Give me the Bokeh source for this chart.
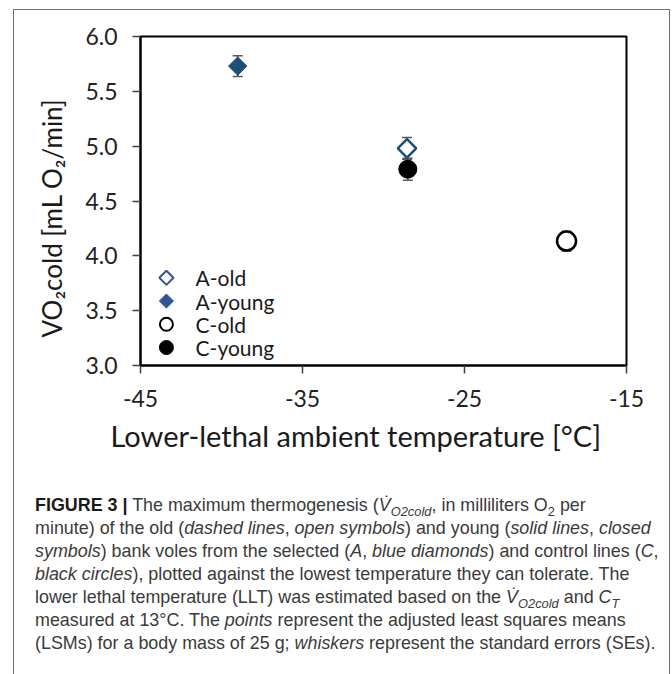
import numpy as np
from bokeh.plotting import figure
from bokeh.models import (ColumnDataSource, Range1d, FixedTicker, Whisker, TeeHead,
                          Title, Div)
from bokeh.layouts import column
from bokeh.core.properties import value
from bokeh.embed import file_html
from bokeh.resources import INLINE

# ---------------- data ----------------
groups = ["A-old", "A-young", "C-old", "C-young"]
llt = [-28.55, -39.0, -18.7, -28.5]        # lower-lethal ambient temperature [°C]
vo2cold = [4.98, 5.73, 4.135, 4.79]        # VO2cold [mL O2/min]
se = [0.10, 0.095, 0.09, 0.10]             # standard errors

x_ticks = [-45, -35, -25, -15]
x_tick_labels = ["-45", "-35", "-25", "-15"]
y_ticks = [3.0, 3.5, 4.0, 4.5, 5.0, 5.5, 6.0]
y_tick_labels = ["3.0", "3.5", "4.0", "4.5", "5.0", "5.5", "6.0"]

x_title = "Lower-lethal ambient temperature [°C]"
y_title = "VO\u2082cold [mL O\u2082/min]"

caption_lines = [
    '<b style="color:#1a1a1a">FIGURE 3 |</b> The maximum thermogenesis (<i>V&#775;</i><sub><i>O2cold</i></sub>, in milliliters O<sub>2</sub> per',
    'minute) of the old (<i>dashed lines</i>, <i>open symbols</i>) and young (<i>solid lines</i>, <i>closed</i>',
    '<i>symbols</i>) bank voles from the selected (<i>A</i>, <i>blue diamonds</i>) and control lines (<i>C</i>,',
    '<i>black circles</i>), plotted against the lowest temperature they can tolerate. The',
    'lower lethal temperature (LLT) was estimated based on the <i>V&#775;</i><sub><i>O2cold</i></sub> and <i>C</i><sub><i>T</i></sub>',
    'measured at 13°C. The <i>points</i> represent the adjusted least squares means',
    '(LSMs) for a body mass of 25 g; <i>whiskers</i> represent the standard errors (SEs).',
]

# ---------------- styles ----------------
BLUE = "#1F4E79"
markers = ["square", "square", "circle", "circle"]
angles = [np.pi / 4, np.pi / 4, 0.0, 0.0]
sizes = [13, 13, 19, 18]
fills = ["white", BLUE, "white", "black"]
lines = [BLUE, BLUE, "black", "black"]
lwidths = [2.5, 1.0, 2.5, 1.0]

src = ColumnDataSource(dict(
    x=llt, y=vo2cold, group=groups,
    upper=list(np.array(vo2cold) + np.array(se)),
    lower=list(np.array(vo2cold) - np.array(se)),
    marker=markers, angle=angles, size=sizes, fill=fills, line=lines, lw=lwidths,
))

p = figure(width=655, height=470, x_range=Range1d(-45, -15), y_range=Range1d(3, 6),
           output_backend="svg", toolbar_location=None,
           min_border_left=126, min_border_right=43, min_border_top=26, min_border_bottom=115)
p.background_fill_color = "white"
p.border_fill_color = "white"
p.grid.visible = False
p.outline_line_color = "black"
p.outline_line_width = 2

FONT = "Lato"
for ax in (p.xaxis[0], p.yaxis[0]):
    ax.axis_line_color = "black"
    ax.axis_line_width = 2
    ax.major_tick_line_color = "#404040"
    ax.major_tick_line_width = 1.5
    ax.major_tick_out = 8
    ax.major_tick_in = 0
    ax.minor_tick_line_color = None
    ax.major_label_text_font = FONT
    ax.major_label_text_font_size = "23px"
    ax.major_label_text_color = "#222222"

p.xaxis.ticker = FixedTicker(ticks=x_ticks)
p.xaxis.major_label_overrides = dict(zip(x_ticks, x_tick_labels))
p.xaxis.major_label_standoff = 16
p.yaxis.ticker = FixedTicker(ticks=y_ticks)
p.yaxis.major_label_overrides = dict(zip(y_ticks, y_tick_labels))
p.yaxis.major_label_standoff = 15

ytitle = Title(text=y_title, align="left", offset=28,
               text_font=FONT, text_font_size="26px", text_font_style="normal",
               text_color="#1a1a1a", standoff=30)
p.add_layout(ytitle, "left")

xtitle = Title(text=x_title, align="left", offset=-30,
               text_font=FONT, text_font_size="29px", text_font_style="normal",
               text_color="#1a1a1a", standoff=12)
p.add_layout(xtitle, "below")

# whiskers (standard errors)
wh = Whisker(source=src, base="x", upper="upper", lower="lower", dimension="height",
             line_color="#595959", line_width=1.5, level="underlay",
             upper_head=TeeHead(size=10, line_color="#595959", line_width=1.5),
             lower_head=TeeHead(size=10, line_color="#595959", line_width=1.5))
p.add_layout(wh)

p.scatter("x", "y", source=src, marker="marker", angle="angle", size="size",
          fill_color="fill", line_color="line", line_width="lw")

# legend (drawn as marks in the lower-left of the plot area)
leg_x = -43.4
leg_tx = -41.6
leg_top = 3.80
leg_step = 0.212
leg_y = [leg_top - i * leg_step for i in range(len(groups))]
leg_src = ColumnDataSource(dict(
    x=[leg_x] * len(groups), tx=[leg_tx] * len(groups), y=leg_y, label=groups,
    marker=markers, angle=angles, size=[10, 10, 13, 14],
    fill=["white", "#2F5597", "white", "black"],
    line=["#2F5597", "#2F5597", "black", "black"], lw=[2.0, 1.0, 2.0, 1.0],
))
p.scatter("x", "y", source=leg_src, marker="marker", angle="angle", size="size",
          fill_color="fill", line_color="line", line_width="lw")
p.text("tx", "y", text="label", source=leg_src, text_font=value(FONT),
       text_font_size="21px", text_baseline="middle", text_align="left",
       text_color="#1a1a1a")

cap_html = ('<div style="padding:9px 0 0 16px; font-family:\'Liberation Sans\', Arial, sans-serif; '
            'font-size:17.9px; line-height:23px; color:#3a3a3a; white-space:nowrap;">'
            + "<br>".join(caption_lines).replace("<sub>", '<sub style="font-size:0.72em; line-height:0;">')
            + "</div>")
cap = Div(text=cap_html, width=655, height=194)

layout = column(p, cap, width=657, height=665, sizing_mode="fixed",
                styles={"margin-left": "13px", "margin-top": "9px",
                        "border": "1px solid #6e6e6e", "border-bottom": "none",
                        "box-sizing": "border-box"})

open("out.html", "w").write(file_html(layout, INLINE))
